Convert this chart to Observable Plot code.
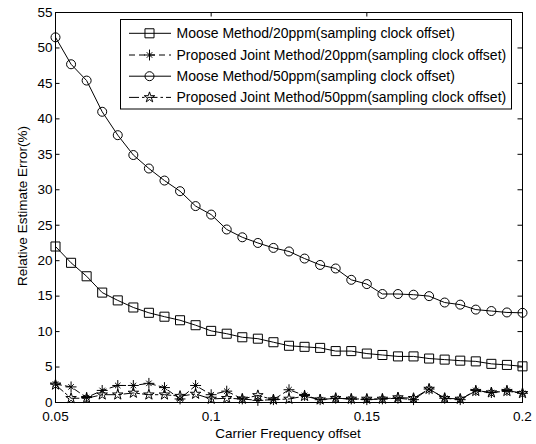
<!DOCTYPE html>
<html><head><meta charset="utf-8">
<script src="https://cdn.jsdelivr.net/npm/d3@7"></script>
<script src="https://cdn.jsdelivr.net/npm/@observablehq/plot@0.6"></script>
<style>body{margin:0;background:#fff} svg{display:block} </style>
</head><body><div id="chart"></div>
<script>
const xValues = [0.05,0.055,0.06,0.065,0.07,0.075,0.08,0.085,0.09,0.095,0.1,0.105,0.11,0.115,0.12,0.125,0.13,0.135,0.14,0.145,0.15,0.155,0.16,0.165,0.17,0.175,0.18,0.185,0.19,0.195,0.2];
const moose20 = [22.0,19.7,17.8,15.5,14.4,13.4,12.65,12.1,11.6,10.9,10.1,9.7,9.2,9.0,8.5,8.0,7.85,7.7,7.25,7.25,6.9,6.7,6.5,6.5,6.2,6.05,5.9,5.8,5.45,5.3,5.1];
const joint20 = [2.6,2.2,0.7,1.7,2.4,2.4,2.7,2.1,0.5,2.4,1.1,1.6,0.5,0.3,0.4,1.8,1.0,0.4,0.6,0.5,0.4,0.5,0.6,0.4,1.9,0.6,0.4,1.7,1.4,1.7,1.3];
const moose50 = [51.5,47.7,45.4,41.0,37.7,34.9,33.0,31.3,29.8,27.7,26.5,24.4,23.3,22.5,21.8,21.3,20.3,19.4,18.9,17.3,16.7,15.3,15.3,15.2,15.0,14.1,13.8,13.1,12.9,12.7,12.65];
const joint50 = [2.5,0.6,0.6,1.1,1.1,1.35,1.1,1.1,0.9,1.2,0.5,0.6,0.5,1.0,0.4,0.5,0.9,0.4,0.6,0.5,0.5,0.5,0.7,0.6,1.9,0.6,0.5,1.6,1.4,1.6,1.3];
const xTicks = [0.05,0.1,0.15,0.2];
const yTicks = [0,5,10,15,20,25,30,35,40,45,50,55];
const seriesNames = [
  "Moose Method/20ppm(sampling clock offset)",
  "Proposed Joint Method/20ppm(sampling clock offset)",
  "Moose Method/50ppm(sampling clock offset)",
  "Proposed Joint Method/50ppm(sampling clock offset)"
];
const xLabel = "Carrier Frequency offset";
const yLabel = "Relative Estimate Error(%)";

const W = 536, H = 444, mL = 55, mR = 14, mT = 12, mB = 42;
const iW = W - mL - mR, iH = H - mT - mB, tk = 4.5;
const FONT = "'Liberation Sans', Arial, Helvetica, sans-serif";
const DASH = "6,4", DASHDOT = "10,3,2.5,3";

const rows = (ys) => xValues.map((x, i) => ({x, y: ys[i]}));
const d20 = rows(moose20), j20 = rows(joint20), d50 = rows(moose50), j50 = rows(joint50);

const chart = Plot.plot({
  width: W, height: H, marginLeft: mL, marginRight: mR, marginTop: mT, marginBottom: mB,
  style: {fontFamily: FONT, fontSize: "13.5px", background: "white", color: "black"},
  x: {domain: [0.05, 0.2]},
  y: {domain: [0, 55]},
  marks: [
    Plot.axisX({ticks: xTicks, tickSize: 0, tickPadding: 9, tickFormat: d => String(d), label: null, fontSize: 13.5}),
    Plot.axisY({ticks: yTicks, tickSize: 0, tickPadding: 3, tickFormat: d => String(d), label: null, fontSize: 13.5}),
    Plot.tickX(xTicks, {x: d => d, insetTop: iH - tk, stroke: "black"}),
    Plot.tickX(xTicks, {x: d => d, insetBottom: iH - tk, stroke: "black"}),
    Plot.tickY(yTicks, {y: d => d, insetRight: iW - tk, stroke: "black"}),
    Plot.tickY(yTicks, {y: d => d, insetLeft: iW - tk, stroke: "black"}),
    Plot.line(d20, {x: "x", y: "y", stroke: "black", strokeWidth: 1}),
    Plot.dot(d20, {x: "x", y: "y", symbol: "square", r: 5.1, stroke: "black", fill: "none", strokeWidth: 1}),
    Plot.line(d50, {x: "x", y: "y", stroke: "black", strokeWidth: 1}),
    Plot.dot(d50, {x: "x", y: "y", symbol: "circle", r: 4.5, stroke: "black", fill: "none", strokeWidth: 1}),
    Plot.line(j20, {x: "x", y: "y", stroke: "black", strokeWidth: 1, strokeDasharray: DASH}),
    Plot.dot(j20, {x: "x", y: "y", symbol: "plus", r: 3.6, stroke: "black", strokeWidth: 1}),
    Plot.dot(j20, {x: "x", y: "y", symbol: "times", r: 2.6, stroke: "black", strokeWidth: 1}),
    Plot.line(j50, {x: "x", y: "y", stroke: "black", strokeWidth: 1, strokeDasharray: DASHDOT}),
    Plot.dot(j50, {x: "x", y: "y", symbol: "star", r: 3.3, stroke: "black", fill: "none", strokeWidth: 1}),
    Plot.frame({stroke: "black", strokeWidth: 1})
  ]
});
document.getElementById("chart").appendChild(chart);

const svg = d3.select(chart);
// axis titles
svg.append("text").attr("x", 288).attr("y", 438).attr("text-anchor", "middle")
  .attr("font-family", FONT).attr("font-size", 13.5).attr("fill", "black").text(xLabel);
svg.append("text").attr("transform", "translate(26.5,206) rotate(-90)").attr("text-anchor", "middle")
  .attr("font-family", FONT).attr("font-size", 13.5).attr("fill", "black").text(yLabel);

// legend
const lg = svg.append("g");
lg.append("rect").attr("x", 120.5).attr("y", 19.5).attr("width", 391).attr("height", 89.5)
  .attr("fill", "white").attr("stroke", "black").attr("stroke-width", 1);
const rowY = [33.3, 55, 76.2, 97.4];
const styles = [
  {dash: null, sym: [[d3.symbolSquare, 5.1]]},
  {dash: DASH, sym: [[d3.symbolPlus, 3.6], [d3.symbolTimes, 2.6]]},
  {dash: null, sym: [[d3.symbolCircle, 4.5]]},
  {dash: DASHDOT, sym: [[d3.symbolStar, 3.3]]}
];
seriesNames.forEach((name, i) => {
  const y = rowY[i];
  const ln = lg.append("line").attr("x1", 129).attr("x2", 171).attr("y1", y).attr("y2", y)
    .attr("stroke", "black").attr("stroke-width", 1);
  if (styles[i].dash) ln.attr("stroke-dasharray", styles[i].dash);
  styles[i].sym.forEach(([s, r]) => {
    lg.append("path").attr("d", d3.symbol(s, Math.PI * r * r)())
      .attr("transform", `translate(149.5,${y})`).attr("fill", "none").attr("stroke", "black").attr("stroke-width", 1);
  });
  lg.append("text").attr("x", 176.5).attr("y", y).attr("dy", "0.36em").attr("text-anchor", "start")
    .attr("font-family", FONT).attr("font-size", 14).attr("fill", "black").text(name);
});
</script>
</body></html>
